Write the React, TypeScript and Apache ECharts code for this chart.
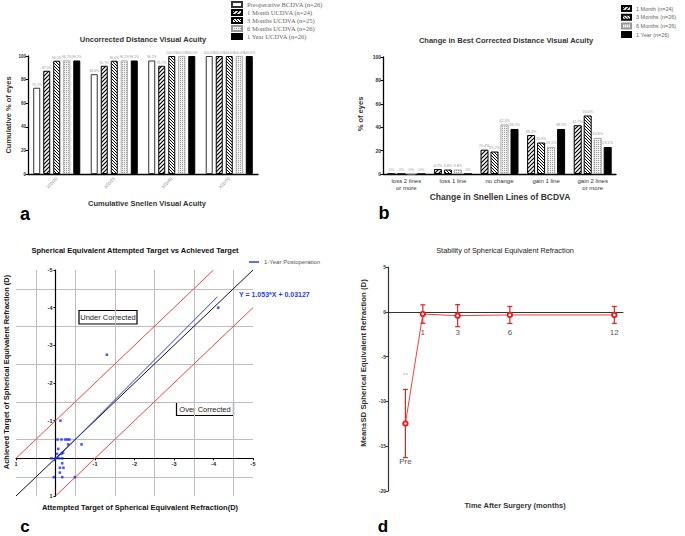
import React, { useEffect, useRef } from 'react';
import * as echarts from 'echarts';

// ---------- Panel a: cumulative UDVA ----------
const acuityCats = ['≥20/20', '≥20/25', '≥20/40', '≥20/70'];
const preopBCDVA = [73.1, 84.6, 96.2, 100];
const ucdva1M = [87.5, 91.7, 91.7, 100];
const ucdva3M = [96.0, 96.0, 100, 100];
const ucdva6M = [96.2, 96.2, 100, 100];
const ucdva1Y = [96.2, 96.2, 100, 100];
const namesA = [
  'Preoperative BCDVA (n=26)',
  '1 Month UCDVA (n=24)',
  '3 Months UCDVA (n=25)',
  '6 Months UCDVA (n=26)',
  '1 Year UCDVA (n=26)',
];

// ---------- Panel b: change in BCDVA lines ----------
const lineCats = ['loss 2 lines\nor more', 'loss 1 line', 'no change', 'gain 1 line', 'gain 2 lines\nor more'];
const bcdva1M = [0, 4.2, 20.8, 33.3, 41.7];
const bcdva3M = [0, 3.8, 19.2, 26.9, 50.0];
const bcdva6M = [0, 3.8, 42.3, 23.1, 30.8];
const bcdva1Y = [0, 0, 38.5, 38.5, 23.1];
const namesB = ['1 Month (n=24)', '3 Months (n=26)', '6 Months (n=26)', '1 Year (n=26)'];

// ---------- Panel c: attempted vs achieved ----------
const attempted = [-0.125, -0.05, -0.15, -0.25, -0.3, -0.35, -0.32, -0.66, -0.07, -0.04, -0.15, -0.19, 0.1, 0, -0.09, -0.17, -0.17, -0.11, -0.2, -0.11, 0.04, -0.17, -0.49, -1.3, -4.12];
const achieved = [-1.0, -0.5, -0.5, -0.5, -0.5, -0.5, -0.37, -0.37, -0.25, -0.12, -0.12, -0.15, 0, 0, 0, 0, 0.13, 0.25, 0.25, 0.38, 0.5, 0.5, 0.5, -2.75, -4.0];
const identityLine = [[1, 1], [-5, -5]];
const upperLimit = [[1, 0], [-4, -5]];
const lowerLimit = [[0, 1], [-5, -4]];
const regressionLine = [[0.05, 0.08], [-4.1, -4.29]];
const regSlope = '1.053';
const regIntercept = '0.03127';
const regName = '1-Year Postoperation';

// ---------- Panel d: stability ----------
const months = [0, 1, 3, 6, 12];
const timeLabels = ['Pre', '1', '3', '6', '12'];
const seMean = [-12.47, -0.25, -0.43, -0.35, -0.35];
const seSD = [3.8, 1.03, 1.23, 0.95, 0.95];
const sigMarks = ['**', '', '', '', ''];

const FONT = 'Liberation Sans, Arial, Helvetica, sans-serif';
const SERIF = 'Liberation Serif, Times New Roman, serif';

function hatch(dir: string, s: number, lw: number) {
  const c = document.createElement('canvas');
  c.width = s;
  c.height = s;
  const g = c.getContext('2d') as CanvasRenderingContext2D;
  g.fillStyle = '#fff';
  g.fillRect(0, 0, s, s);
  g.strokeStyle = '#000';
  g.lineWidth = lw;
  g.beginPath();
  if (dir === '/') {
    g.moveTo(0, s); g.lineTo(s, 0);
    g.moveTo(-1, 1); g.lineTo(1, -1);
    g.moveTo(s - 1, s + 1); g.lineTo(s + 1, s - 1);
  } else {
    g.moveTo(0, 0); g.lineTo(s, s);
    g.moveTo(-1, s - 1); g.lineTo(1, s + 1);
    g.moveTo(s - 1, -1); g.lineTo(s + 1, 1);
  }
  g.stroke();
  return { image: c.toDataURL(), repeat: 'repeat', imageWidth: s, imageHeight: s };
}

function dots() {
  const c = document.createElement('canvas');
  c.width = 2;
  c.height = 2;
  const g = c.getContext('2d') as CanvasRenderingContext2D;
  g.fillStyle = '#f2f2f2';
  g.fillRect(0, 0, 2, 2);
  g.fillStyle = '#9a9a9a';
  g.fillRect(0, 0, 1, 1);
  return { image: c.toDataURL(), repeat: 'repeat', imageWidth: 2, imageHeight: 2 };
}

const pctLabel = (p: any) => (p.value === 0 ? '0%' : Number(p.value).toFixed(1) + '%');

function text(x: number, y: number, t: string, size: number, opts: any = {}) {
  return {
    type: 'text',
    x,
    y,
    rotation: opts.rotation || 0,
    style: {
      text: t,
      x: 0,
      y: 0,
      align: opts.align || 'center',
      verticalAlign: 'middle',
      fontSize: size,
      fontWeight: opts.weight || 'bold',
      fontFamily: opts.family || FONT,
      fill: opts.fill || '#333',
    },
  };
}

function buildOption() {
  const styleA = [
    { color: '#fff', borderColor: '#333', borderWidth: 1 },
    { color: hatch('/', 4, 1.2), borderColor: '#000', borderWidth: 1 },
    { color: hatch('\\', 3, 1), borderColor: '#000', borderWidth: 1 },
    { color: dots(), borderColor: '#999', borderWidth: 0.8 },
    { color: '#000', borderColor: '#000', borderWidth: 1 },
  ];
  const styleB = styleA.slice(1);

  const dataA = [preopBCDVA, ucdva1M, ucdva3M, ucdva6M, ucdva1Y];
  const dataB = [bcdva1M, bcdva3M, bcdva6M, bcdva1Y];

  const barsA = dataA.map((d, i) => ({
    name: namesA[i],
    type: 'bar',
    xAxisIndex: 0,
    yAxisIndex: 0,
    data: d,
    barWidth: 7,
    barGap: '43%',
    itemStyle: styleA[i],
    label: { show: true, position: 'top', distance: 1.5, fontSize: 3.4, color: '#999', formatter: pctLabel },
  }));
  const barsB = dataB.map((d, i) => ({
    name: namesB[i],
    type: 'bar',
    xAxisIndex: 1,
    yAxisIndex: 1,
    data: d,
    barWidth: 8,
    barGap: '25%',
    itemStyle: styleB[i],
    label: { show: true, position: 'top', distance: 1.5, fontSize: 3.8, color: '#999', formatter: pctLabel },
  }));

  const scatterData = attempted.map((x, i) => [x, achieved[i]]);
  const lineC = (name: string, data: number[][], color: string, z = 2) => ({
    name,
    type: 'line',
    xAxisIndex: 2,
    yAxisIndex: 2,
    data,
    symbol: 'none',
    z,
    lineStyle: { color, width: 1 },
    itemStyle: { color },
  });

  const axisBase = {
    axisLine: { show: true, lineStyle: { color: '#000', width: 1.3 } },
    splitLine: { show: false },
  };

  const cAxis = (gridIndex: number, offset: number) => ({
    type: 'value',
    gridIndex,
    min: -5,
    max: 1,
    interval: 1,
    inverse: true,
    offset,
    axisLine: { show: true, onZero: false, lineStyle: { color: '#000', width: 1.2 } },
    axisTick: { show: true, length: 2, lineStyle: { color: '#000' } },
    axisLabel: {
      fontSize: 5.5,
      fontWeight: 'bold',
      color: '#222',
      margin: 3,
      formatter: (v: number) => (v === 0 ? '' : String(v)),
    },
    splitLine: { show: false },
    minorTick: { show: false, splitNumber: 2 },
    minorSplitLine: { show: true, lineStyle: { color: '#bdbdbd', width: 1 } },
  });

  return {
    animation: false,
    textStyle: { fontFamily: FONT },
    grid: [
      { left: 28, top: 56, width: 230, height: 118 },
      { left: 383, top: 57, width: 233, height: 117 },
      { left: 16, top: 270, width: 237, height: 226 },
      { left: 388, top: 267, width: 235, height: 224 },
    ],
    legend: [
      {
        data: namesA,
        orient: 'vertical',
        left: 231,
        top: 1,
        padding: 0,
        itemWidth: 10,
        itemHeight: 5,
        itemGap: 1,
        icon: 'rect',
        selectedMode: false,
        textStyle: { fontFamily: SERIF, fontSize: 6.5, color: '#666', lineHeight: 6 },
      },
      {
        data: namesB,
        orient: 'vertical',
        left: 621,
        top: 5,
        padding: 0,
        itemWidth: 9,
        itemHeight: 5,
        itemGap: 1.7,
        icon: 'rect',
        selectedMode: false,
        textStyle: { fontSize: 5.5, color: '#666', lineHeight: 6 },
      },
      {
        data: [{ name: regName, icon: 'rect' }],
        left: 249,
        top: 259,
        padding: 0,
        itemWidth: 10,
        itemHeight: 1.5,
        selectedMode: false,
        textStyle: { fontSize: 6, color: '#555' },
      },
    ],
    xAxis: [
      {
        type: 'category',
        gridIndex: 0,
        data: acuityCats,
        ...axisBase,
        axisTick: { show: false },
        axisLabel: { rotate: 45, fontSize: 4.5, color: '#888', margin: 4 },
      },
      {
        type: 'category',
        gridIndex: 1,
        data: lineCats,
        ...axisBase,
        axisTick: { show: false },
        axisLabel: { fontSize: 6, color: '#333', margin: 3, lineHeight: 7 },
      },
      cAxis(2, -37.7),
      {
        type: 'value',
        gridIndex: 3,
        min: -1,
        max: 12.5,
        interval: 1,
        offset: -179.2,
        axisLine: { show: true, onZero: false, lineStyle: { color: '#333', width: 1.2 } },
        axisTick: { show: false },
        axisLabel: {
          fontSize: 8,
          color: '#555',
          margin: 17,
          showMinLabel: false,
          showMaxLabel: false,
          formatter: (v: number) => {
            const i = months.indexOf(v);
            return i > 0 ? timeLabels[i] : '';
          },
        },
        splitLine: { show: false },
      },
    ],
    yAxis: [
      {
        type: 'value',
        gridIndex: 0,
        min: 0,
        max: 100,
        interval: 20,
        ...axisBase,
        axisTick: { show: true, length: 2.5, lineStyle: { color: '#000' } },
        axisLabel: { fontSize: 4.5, fontWeight: 'bold', color: '#333', margin: 2 },
      },
      {
        type: 'value',
        gridIndex: 1,
        min: 0,
        max: 100,
        interval: 20,
        ...axisBase,
        axisTick: { show: true, length: 2.5, lineStyle: { color: '#000' } },
        axisLabel: { fontSize: 5, fontWeight: 'bold', color: '#333', margin: 2 },
      },
      cAxis(2, -39.5),
      {
        type: 'value',
        gridIndex: 3,
        min: -20,
        max: 5,
        interval: 5,
        axisLine: { show: true, onZero: false, lineStyle: { color: '#333', width: 1.2 } },
        axisTick: { show: true, length: 2.5, lineStyle: { color: '#333' } },
        axisLabel: { fontSize: 5, fontWeight: 'bold', color: '#333', margin: 2 },
        splitLine: { show: false },
      },
    ],
    series: [
      ...barsA,
      ...barsB,
      lineC('upper', upperLimit, '#ee4444'),
      lineC('lower', lowerLimit, '#ee4444'),
      lineC('identity', identityLine, '#111'),
      lineC(regName, regressionLine, '#2a3cf0', 3),
      {
        name: 'points',
        type: 'scatter',
        xAxisIndex: 2,
        yAxisIndex: 2,
        data: scatterData,
        symbol: 'rect',
        symbolSize: 2.6,
        z: 4,
        itemStyle: { color: '#1f2ff5' },
      },
      {
        name: 'SE',
        type: 'line',
        xAxisIndex: 3,
        yAxisIndex: 3,
        data: months.map((m, i) =>
          i === 0
            ? {
                value: [m, seMean[i]],
                label: { show: true, position: 'bottom', distance: 31, formatter: timeLabels[0], fontSize: 8, color: '#555' },
              }
            : [m, seMean[i]]
        ),
        symbol: 'emptyCircle',
        symbolSize: 4.5,
        z: 4,
        lineStyle: { color: '#f04040', width: 1 },
        itemStyle: { color: '#e82020', borderWidth: 1.2 },
      },
      {
        name: 'SD',
        type: 'custom',
        xAxisIndex: 3,
        yAxisIndex: 3,
        z: 3,
        data: months.map((m, i) => [m, seMean[i] - seSD[i], seMean[i] + seSD[i]]),
        encode: { x: 0, y: [1, 2] },
        renderItem: (params: any, api: any) => {
          const x = api.value(0);
          const lo = api.coord([x, api.value(1)]);
          const hi = api.coord([x, api.value(2)]);
          const st = { stroke: '#e82020', lineWidth: 1.2 };
          const w = 2.5;
          return {
            type: 'group',
            children: [
              { type: 'line', shape: { x1: hi[0], y1: hi[1], x2: lo[0], y2: lo[1] }, style: st },
              { type: 'line', shape: { x1: hi[0] - w, y1: hi[1], x2: hi[0] + w, y2: hi[1] }, style: st },
              { type: 'line', shape: { x1: lo[0] - w, y1: lo[1], x2: lo[0] + w, y2: lo[1] }, style: st },
              {
                type: 'text',
                x: hi[0],
                y: hi[1] - 14,
                style: { text: sigMarks[params.dataIndex], align: 'center', verticalAlign: 'middle', fontSize: 6, fill: '#aaa' },
              },
            ],
          };
        },
      },
    ],
    graphic: [
      text(143, 39, 'Uncorrected Distance Visual Acuity', 7.5),
      text(506, 40, 'Change in Best Corrected Distance Visual Acuity', 7.5),
      text(135, 250.5, 'Spherical Equivalent Attempted Target vs Achieved Target', 7.5, { fill: '#111' }),
      text(505, 250, 'Stability of Spherical Equivalent Refraction', 7.3, { weight: 'normal', fill: '#222' }),
      text(147, 203, 'Cumulative Snellen Visual Acuity', 7.5),
      text(8, 115, 'Cumulative % of eyes', 7.5, { rotation: Math.PI / 2 }),
      text(500, 197, 'Change in Snellen Lines of BCDVA', 8.5),
      text(360, 114, '% of eyes', 7.5, { rotation: Math.PI / 2 }),
      text(140, 507, 'Attempted Target of Spherical Equivalent Refraction(D)', 7.5, { fill: '#111' }),
      text(6, 372, 'Achieved Target of Spherical Equivalent Refraction (D)', 7.5, { rotation: Math.PI / 2, fill: '#111' }),
      text(515, 505, 'Time After Surgery (months)', 7.5),
      text(363, 363, 'Mean±SD Spherical Equivalent Refraction (D)', 7.8, { rotation: Math.PI / 2 }),
      text(25, 214, 'a', 18, { fill: '#000' }),
      text(384, 213, 'b', 18, { fill: '#000' }),
      text(25, 526, 'c', 17, { fill: '#000' }),
      text(383, 526, 'd', 17, { fill: '#000' }),
      {
        type: 'rect',
        shape: { x: 79, y: 310.5, width: 58, height: 13.5 },
        style: { fill: '#fff', stroke: '#000', lineWidth: 1.2 },
      },
      text(108, 317.5, 'Under Corrected', 7.5, { weight: 'normal', fill: '#222' }),
      {
        type: 'rect',
        shape: { x: 176.5, y: 402.5, width: 57, height: 13 },
        style: { fill: '#fff', stroke: '#000', lineWidth: 1.2 },
      },
      text(205, 409, 'Over Corrected', 7.5, { weight: 'normal', fill: '#222' }),
      text(239, 294, `Y = ${regSlope}*X + ${regIntercept}`, 7, { align: 'left', fill: '#2a3cf0' }),
    ],
  };
}

export default function App() {
  const ref = useRef<HTMLDivElement>(null);
  useEffect(() => {
    document.body.style.margin = '0';
    const chart = echarts.init(ref.current as HTMLDivElement, null, { renderer: 'svg' });
    chart.setOption(buildOption() as any);
    return () => chart.dispose();
  }, []);
  return <div ref={ref} style={{ width: 685, height: 536 }} />;
}
